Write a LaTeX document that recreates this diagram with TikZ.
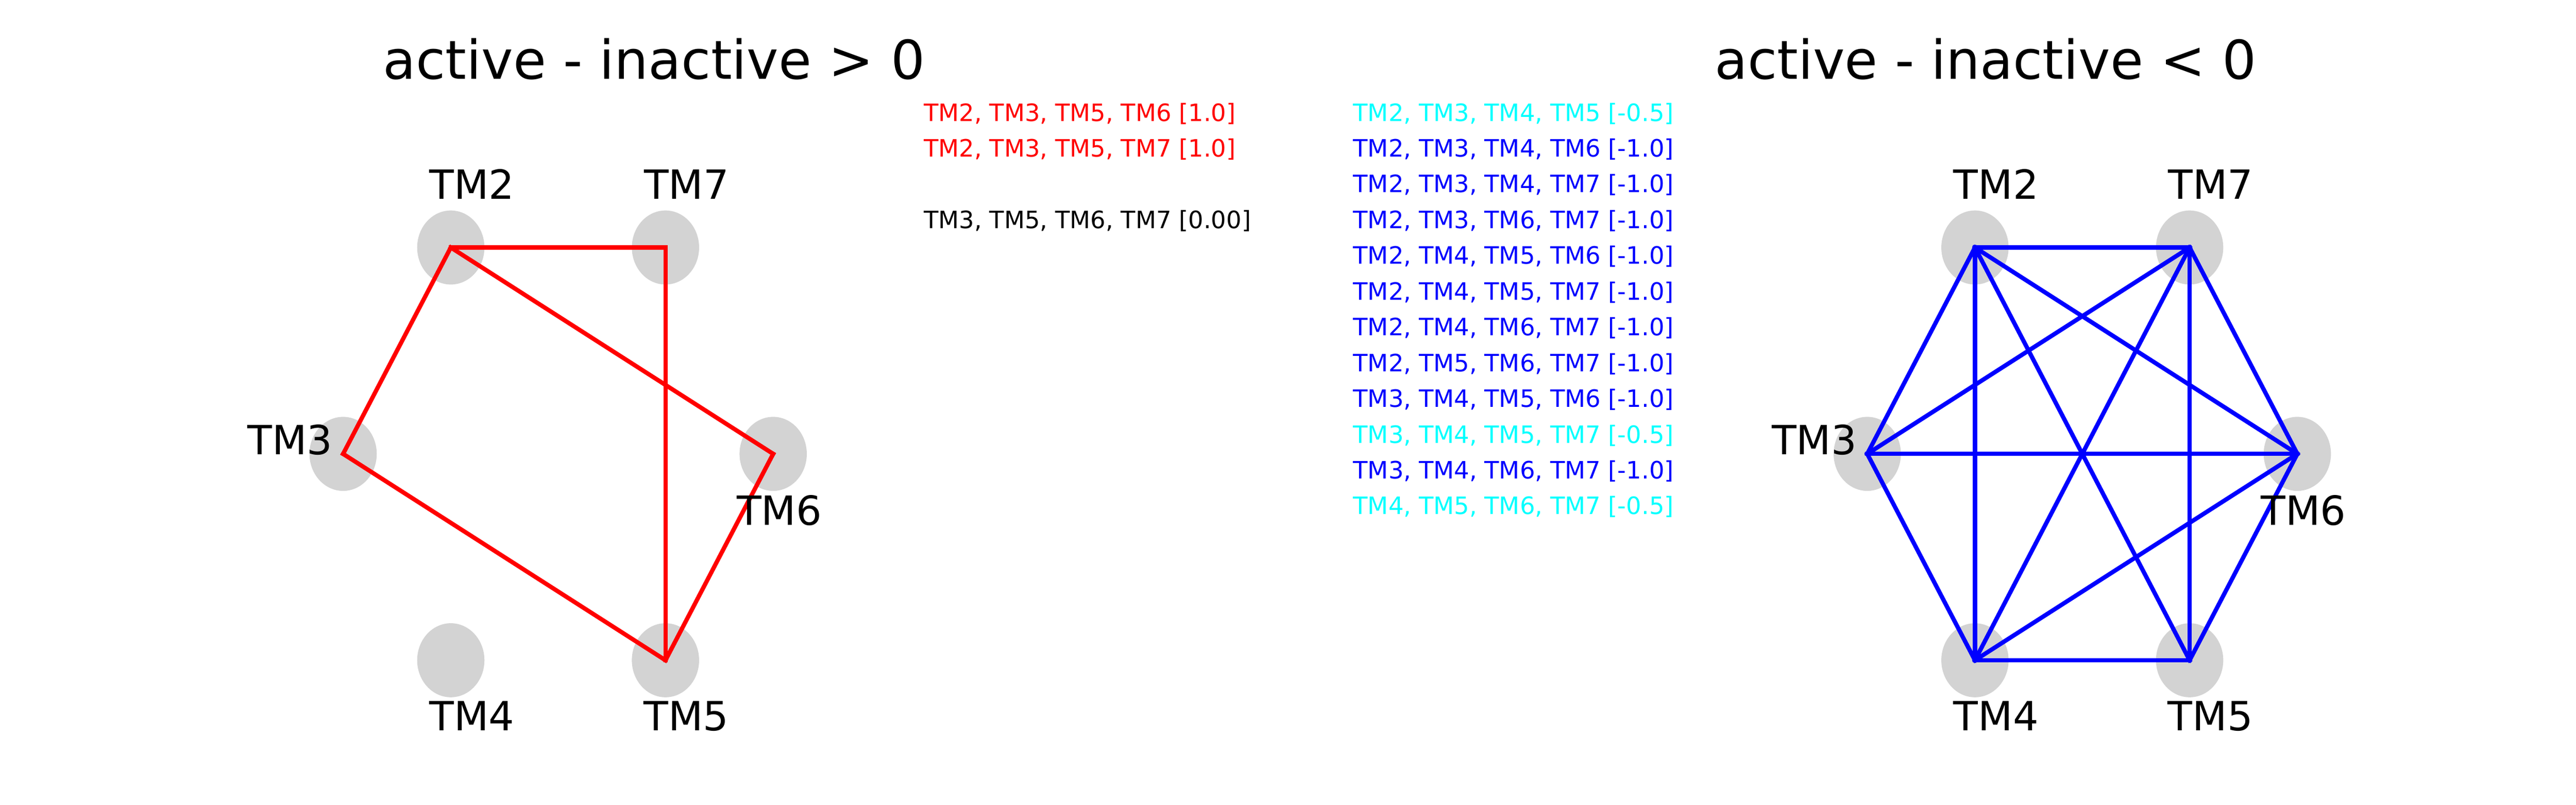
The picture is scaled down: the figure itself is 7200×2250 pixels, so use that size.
\documentclass[tikz,border=0pt]{standalone}
\usepackage{fontspec}
\setmainfont{DejaVu Sans}
\usetikzlibrary{shapes.geometric}
\definecolor{mplred}{RGB}{255,0,0}
\definecolor{mplblue}{RGB}{0,0,255}
\definecolor{mplcyan}{RGB}{0,255,255}
\definecolor{nodegray}{RGB}{211,211,211}
\begin{document}
\begin{tikzpicture}[x=0.16pt,y=-0.16pt,
  tmnode/.style={ellipse, fill=nodegray, draw=none, minimum width=30.08pt, minimum height=33.12pt, inner sep=0pt},
  tmlabel/.style={anchor=base, inner sep=0pt, text=black, font=\fontsize{18}{21.6}\selectfont},
  titletext/.style={anchor=base, inner sep=0pt, text=black, font=\fontsize{24}{28.8}\selectfont},
  listtext/.style={anchor=base west, inner sep=0pt, font=\fontsize{10.7}{12.8}\selectfont},
  posedge/.style={draw=mplred, line width=1.92pt, line cap=rect, line join=miter},
  negedge/.style={draw=mplblue, line width=1.92pt, line cap=rect, line join=miter}
]
\useasboundingbox (0,0) rectangle (7200,2250);

% titles
\node[titletext] (t1) at (1828,221) {active - inactive > 0};
\node[titletext] (t2) at (5550,221) {active - inactive < 0};

% left graph nodes
\node[tmnode] (L2) at (1260,692) {};
\node[tmnode] (L7) at (1860,692) {};
\node[tmnode] (L3) at (959,1269) {};
\node[tmnode] (L6) at (2161,1269) {};
\node[tmnode] (L4) at (1260,1846) {};
\node[tmnode] (L5) at (1860,1846) {};

% left edges
\draw[posedge] (L2.center) -- (L7.center);
\draw[posedge] (L2.center) -- (L3.center);
\draw[posedge] (L2.center) -- (L6.center);
\draw[posedge] (L7.center) -- (L5.center);
\draw[posedge] (L3.center) -- (L5.center);
\draw[posedge] (L6.center) -- (L5.center);

% left labels
\node[tmlabel] (lL2) at (1319,557) {TM2};
\node[tmlabel] (lL7) at (1919,557) {TM7};
\node[tmlabel] (lL3) at (811,1271) {TM3};
\node[tmlabel] (lL6) at (2178,1468) {TM6};
\node[tmlabel] (lL4) at (1319,2042) {TM4};
\node[tmlabel] (lL5) at (1918,2042) {TM5};

% right graph nodes
\node[tmnode] (R2) at (5520,692) {};
\node[tmnode] (R7) at (6120,692) {};
\node[tmnode] (R3) at (5219,1269) {};
\node[tmnode] (R6) at (6421,1269) {};
\node[tmnode] (R4) at (5520,1846) {};
\node[tmnode] (R5) at (6120,1846) {};

% right edges
\draw[negedge] (R2.center) -- (R7.center);
\draw[negedge] (R2.center) -- (R3.center);
\draw[negedge] (R2.center) -- (R4.center);
\draw[negedge] (R2.center) -- (R5.center);
\draw[negedge] (R2.center) -- (R6.center);
\draw[negedge] (R7.center) -- (R3.center);
\draw[negedge] (R7.center) -- (R4.center);
\draw[negedge] (R7.center) -- (R5.center);
\draw[negedge] (R7.center) -- (R6.center);
\draw[negedge] (R3.center) -- (R6.center);
\draw[negedge] (R3.center) -- (R4.center);
\draw[negedge] (R4.center) -- (R5.center);
\draw[negedge] (R4.center) -- (R6.center);
\draw[negedge] (R5.center) -- (R6.center);

% right labels
\node[tmlabel] (lR2) at (5579,557) {TM2};
\node[tmlabel] (lR7) at (6179,557) {TM7};
\node[tmlabel] (lR3) at (5071,1271) {TM3};
\node[tmlabel] (lR6) at (6438,1468) {TM6};
\node[tmlabel] (lR4) at (5579,2042) {TM4};
\node[tmlabel] (lR5) at (6178,2042) {TM5};

% left list
\node[listtext, text=mplred] (p1) at (2581,338.5) {TM2, TM3, TM5, TM6 [1.0]};
\node[listtext, text=mplred] (p2) at (2581,438.5) {TM2, TM3, TM5, TM7 [1.0]};
\node[listtext, text=black] (p3) at (2581,638.5) {TM3, TM5, TM6, TM7 [0.00]};

% right list
\node[listtext, text=mplcyan] (n1) at (3781,338.5) {TM2, TM3, TM4, TM5 [-0.5]};
\node[listtext, text=mplblue] (n2) at (3781,438.5) {TM2, TM3, TM4, TM6 [-1.0]};
\node[listtext, text=mplblue] (n3) at (3781,538.5) {TM2, TM3, TM4, TM7 [-1.0]};
\node[listtext, text=mplblue] (n4) at (3781,638.5) {TM2, TM3, TM6, TM7 [-1.0]};
\node[listtext, text=mplblue] (n5) at (3781,738.5) {TM2, TM4, TM5, TM6 [-1.0]};
\node[listtext, text=mplblue] (n6) at (3781,838.5) {TM2, TM4, TM5, TM7 [-1.0]};
\node[listtext, text=mplblue] (n7) at (3781,938.5) {TM2, TM4, TM6, TM7 [-1.0]};
\node[listtext, text=mplblue] (n8) at (3781,1038.5) {TM2, TM5, TM6, TM7 [-1.0]};
\node[listtext, text=mplblue] (n9) at (3781,1138.5) {TM3, TM4, TM5, TM6 [-1.0]};
\node[listtext, text=mplcyan] (n10) at (3781,1238.5) {TM3, TM4, TM5, TM7 [-0.5]};
\node[listtext, text=mplblue] (n11) at (3781,1338.5) {TM3, TM4, TM6, TM7 [-1.0]};
\node[listtext, text=mplcyan] (n12) at (3781,1438.5) {TM4, TM5, TM6, TM7 [-0.5]};
\end{tikzpicture}
\end{document}
